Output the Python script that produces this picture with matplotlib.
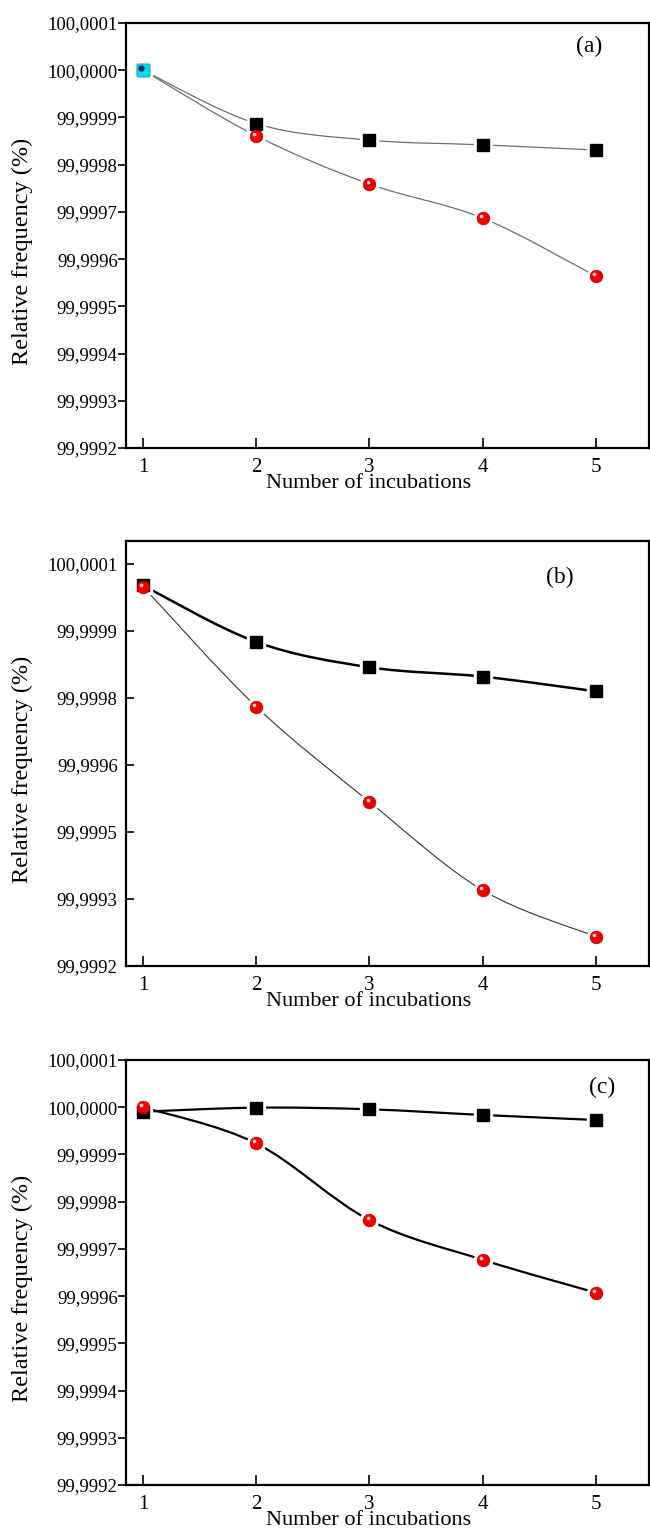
"""Relative frequency vs number of incubations, three stacked panels."""
import matplotlib
matplotlib.use("Agg")
import matplotlib.pyplot as plt
from matplotlib.path import Path
from matplotlib.patches import PathPatch
from matplotlib.transforms import offset_copy
import numpy as np

plt.rcParams["font.family"] = ["Liberation Serif", "DejaVu Serif"]

incubations = [1, 2, 3, 4, 5]

a_squares = [100.0000, 99.999887, 99.999852, 99.999842, 99.999831]
a_circles = [100.0000, 99.999861, 99.999759, 99.999687, 99.999564]

b_squares = [100.0000515, 99.9999252, 99.9998685, 99.9998476, 99.9998147]
b_circles = [100.000049, 99.9997804, 99.9995675, 99.9993696, 99.9992658]

c_squares = [99.9999906, 99.9999991, 99.9999956, 99.9999836, 99.999973]
c_circles = [100.0000, 99.9999236, 99.999761, 99.999677, 99.9996074]

ac_ticks = [100.0001, 100.0000, 99.9999, 99.9998, 99.9997,
            99.9996, 99.9995, 99.9994, 99.9993, 99.9992]
ac_labels = ["100,0001", "100,0000", "99,9999", "99,9998", "99,9997",
             "99,9996", "99,9995", "99,9994", "99,9993", "99,9992"]

b_ticks = [100.0001, 99.99995, 99.9998, 99.99965, 99.9995, 99.99935, 99.9992]
b_labels = ["100,0001", "99,9999", "99,9998", "99,9996", "99,9995", "99,9993", "99,9992"]


def smooth_patch(x, y, color, lw):
    # Catmull-Rom curve through the points, drawn as cubic Bezier segments
    pts = np.column_stack([x, y]).astype(float)
    ext = np.vstack([pts[0], pts, pts[-1]])
    verts = [tuple(pts[0])]
    codes = [Path.MOVETO]
    for i in range(1, len(ext) - 2):
        p0, p1, p2, p3 = ext[i - 1], ext[i], ext[i + 1], ext[i + 2]
        c1 = p1 + (p2 - p0) / 6.0
        c2 = p2 - (p3 - p1) / 6.0
        verts += [tuple(c1), tuple(c2), tuple(p2)]
        codes += [Path.CURVE4] * 3
    return PathPatch(Path(verts, codes), facecolor="none", edgecolor=color, lw=lw,
                     capstyle="round", zorder=2)


def draw_panel(ax, squares, circles, sq_line, ci_line, ticks, labels, ylim,
               letter, letter_pos, ytick_dir, cyan_first=False):
    fig = ax.figure
    ax.add_patch(smooth_patch(incubations, squares, *sq_line))
    ax.add_patch(smooth_patch(incubations, circles, *ci_line))

    # white halos leave a small gap between line and symbol
    ax.plot(incubations, squares, ls="none", marker="s", ms=13, color="white", zorder=3)
    ax.plot(incubations, circles, ls="none", marker="o", ms=13, color="white", zorder=3)
    ax.plot(incubations, squares, ls="none", marker="s", ms=8.8, color="black", zorder=4)
    ax.plot(incubations, circles, ls="none", marker="o", ms=9, color="#ee0000",
            mec="#c80000", mew=0.6, zorder=5)
    shine = offset_copy(ax.transData, fig=fig, x=-1.3, y=1.5, units="points")
    ax.plot(incubations, circles, ls="none", marker="o", ms=2.6, color="#ffd8d8",
            mew=0, transform=shine, zorder=6)

    if cyan_first:
        ax.plot(incubations[:1], squares[:1], ls="none", marker="s", ms=9,
                color="#00e0ee", mec="#00c8d8", zorder=7)
        ax.plot(incubations[:1], squares[:1], ls="none", marker="o", ms=3.5,
                color="#0a2a60", transform=shine, zorder=8)

    ax.set_xlim(0.85, 5.47)
    ax.set_ylim(*ylim)
    ax.set_xticks(incubations)
    ax.set_yticks(ticks)
    ax.set_yticklabels(labels)
    ax.tick_params(axis="x", direction="in", length=7, width=1.2, labelsize=15, pad=7)
    ypad = 0.5 if ytick_dir == "out" else 6
    ax.tick_params(axis="y", direction=ytick_dir, length=5.5, width=1.2, labelsize=13.5, pad=ypad)
    for sp in ax.spines.values():
        sp.set_linewidth(1.6)
    ax.set_xlabel("Number of incubations", fontsize=16)
    ax.xaxis.set_label_coords(0.463, -0.062)
    ax.set_ylabel("Relative frequency (%)", fontsize=17.5)
    ax.yaxis.set_label_coords(-0.178, 0.462)
    ax.text(letter_pos[0], letter_pos[1], letter, transform=ax.transAxes,
            fontsize=17, ha="center", va="center")


fig = plt.figure(figsize=(6.5, 15.4), dpi=100)
left, width, height = 126 / 650, 523 / 650, 425 / 1540

ax_a = fig.add_axes([left, 1 - 448 / 1540, width, height])
ax_b = fig.add_axes([left, 1 - 966 / 1540, width, height])
ax_c = fig.add_axes([left, 1 - 1485 / 1540, width, height])

draw_panel(ax_a, a_squares, a_circles, ("#6e6e6e", 0.9), ("#6e6e6e", 0.9),
           ac_ticks, ac_labels, (99.9992, 100.0001), "(a)", (0.885, 0.945), "out",
           cyan_first=True)
draw_panel(ax_b, b_squares, b_circles, ("black", 1.8), ("#333333", 0.8),
           b_ticks, b_labels, (99.9992, 100.000151), "(b)", (0.83, 0.915), "in")
draw_panel(ax_c, c_squares, c_circles, ("black", 1.6), ("black", 1.6),
           ac_ticks, ac_labels, (99.9992, 100.0001), "(c)", (0.91, 0.935), "out")

fig.savefig("out.png", dpi=100)
